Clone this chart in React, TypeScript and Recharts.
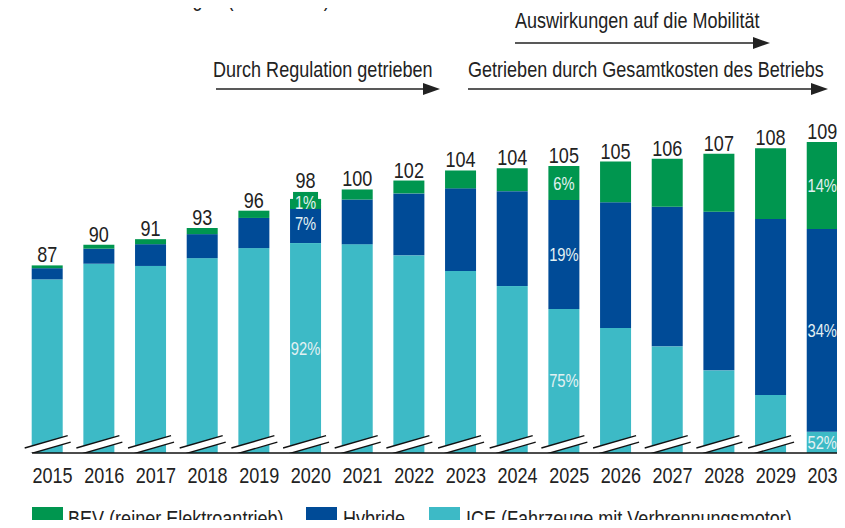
import React from 'react';
import { BarChart, Bar, XAxis, YAxis, ReferenceLine, LabelList } from 'recharts';

const years = ['2015', '2016', '2017', '2018', '2019', '2020', '2021', '2022', '2023', '2024', '2025', '2026', '2027', '2028', '2029', '2030'];
const totals = [87, 90, 91, 93, 96, 98, 100, 102, 104, 104, 105, 105, 106, 107, 108, 109];

// Mio. Fahrzeuge je Antriebsart (aus dem Bild geschätzt)
const ice = [84.5, 87.3, 86.9, 88.3, 90.1, 91.0, 90.8, 88.8, 86.0, 83.3, 79.2, 75.8, 72.5, 68.2, 63.8, 57.2];
const hybrid = [2.0, 2.7, 3.9, 4.3, 5.4, 6.9, 8.0, 11.1, 14.8, 17.0, 19.5, 22.5, 25.0, 28.4, 31.5, 36.3];
const bev = [0.5, 0.7, 0.9, 1.1, 1.3, 1.0, 1.8, 2.3, 3.2, 4.1, 6.1, 7.3, 8.6, 10.4, 12.7, 15.6];

const icePct = ['', '', '', '', '', '92%', '', '', '', '', '75%', '', '', '', '', '52%'];
const hybridPct = ['', '', '', '', '', '7%', '', '', '', '', '19%', '', '', '', '', '34%'];
const bevPct = ['', '', '', '', '', '1%', '', '', '', '', '6%', '', '', '', '', '14%'];

const seriesNames = ['BEV (reiner Elektroantrieb)', 'Hybride', 'ICE (Fahrzeuge mit Verbrennungsmotor)'];

const GREEN = '#00964f';
const BLUE = '#004b97';
const CYAN = '#3dbac6';
const INK = '#222';
const PCT_INK = '#e3f1f3';
const FONT = '"Liberation Sans", Arial, sans-serif';
const NARROW = 0.82; // Liberation Sans, horizontal gestaucht -> wirkt wie Arial Narrow

const Y_MIN = 53.4;
const Y_MAX = 113.4;
const CHART_W = 870;
const CHART_H = 528;
const MARGIN = { top: 118, right: 21.6, left: 21.7, bottom: 45 };
const XAXIS_H = 30;
const PLOT_BOTTOM = CHART_H - MARGIN.bottom - XAXIS_H;
const BAR_SIZE = 31;

const data = years.map((year, i) => ({
  year,
  ice: ice[i],
  hybrid: hybrid[i],
  bev: bev[i],
  total: totals[i],
}));

const num = (v: any) => Number(v) || 0;

type NTextProps = {
  x: number;
  y: number;
  size?: number;
  fill?: string;
  anchor?: 'start' | 'middle' | 'end';
  dy?: string;
  children: React.ReactNode;
};

const NText = ({ x, y, size = 22, fill = INK, anchor = 'start', dy, children }: NTextProps) => (
  <text
    transform={`translate(${x},${y}) scale(${NARROW},1)`}
    x={0}
    y={0}
    dy={dy}
    textAnchor={anchor}
    fontSize={size}
    fontFamily={FONT}
    fill={fill}
  >
    {children}
  </text>
);

const pctText = (cx: number, cy: number, t: string) => (
  <NText x={cx} y={cy} dy="0.36em" anchor="middle" size={18} fill={PCT_INK}>
    {t}
  </NText>
);

const segmentLabel = (list: string[]) => (p: any) => {
  const i = years.indexOf(p.value);
  const t = list[i];
  if (!t) return null;
  const x = num(p.x);
  const w = num(p.width);
  const y = num(p.y);
  const bottom = Math.min(y + num(p.height), PLOT_BOTTOM);
  return pctText(x + w / 2, (y + bottom) / 2, t);
};

const bevLabel = (p: any) => {
  const i = years.indexOf(p.value);
  if (i < 0) return null;
  const x = num(p.x);
  const w = num(p.width);
  const y = num(p.y);
  const h = num(p.height);
  const cx = x + w / 2;
  const t = bevPct[i];
  const boxed = !!t && h < 14;
  return (
    <g>
      {boxed && (
        <g>
          <rect x={x + 3} y={y - 7} width={w - 6} height={8} fill={GREEN} />
          <rect x={x} y={y} width={w} height={10} fill={GREEN} />
        </g>
      )}
      {t && (boxed ? pctText(cx, y + 4, t) : pctText(cx, y + h / 2, t))}
      <NText x={cx} y={y - (boxed ? 11 : 3)} anchor="middle">
        {totals[i]}
      </NText>
    </g>
  );
};

const IceShape = (p: any) => {
  const x = num(p.x);
  const w = num(p.width);
  const y = num(p.y);
  const b = Math.min(y + num(p.height), PLOT_BOTTOM);
  const showBreak = b - y > 30;
  const a1 = [x - 7, b - 5];
  const a2 = [x + w + 5, b - 17.3];
  const d = [3, 6.5];
  const b1 = [a1[0] + d[0], a1[1] + d[1]];
  const b2 = [a2[0] + d[0], a2[1] + d[1]];
  return (
    <g>
      <rect x={x} y={y} width={w} height={Math.max(b - y, 0)} fill={CYAN} />
      {showBreak && (
        <g>
          <polygon points={`${a1[0]},${a1[1]} ${a2[0]},${a2[1]} ${b2[0]},${b2[1]} ${b1[0]},${b1[1]}`} fill="#fff" />
          <line x1={a1[0]} y1={a1[1]} x2={a2[0]} y2={a2[1]} stroke="#111" strokeWidth={1.4} />
          <line x1={b1[0]} y1={b1[1]} x2={b2[0]} y2={b2[1]} stroke="#111" strokeWidth={1.4} />
        </g>
      )}
    </g>
  );
};

const YearTick = (p: any) => (
  <NText x={num(p.x) + 5} y={num(p.y) + 30} anchor="middle">
    {p.payload?.value}
  </NText>
);

const AxisLine = (p: any) => {
  const x1 = num(p.x1);
  const x2 = num(p.x2);
  const inset = ((x2 - x1) / years.length - BAR_SIZE) / 2;
  return <line x1={x1 + inset} y1={p.y1} x2={x2 - inset} y2={p.y2} stroke="#111" strokeWidth={1.6} />;
};

const Arrow = ({ x1, x2, y }: { x1: number; x2: number; y: number }) => (
  <g>
    <line x1={x1} y1={y} x2={x2 - 14} y2={y} stroke={INK} strokeWidth={1.5} />
    <polygon points={`${x2 - 17},${y - 6} ${x2},${y} ${x2 - 17},${y + 6}`} fill={INK} />
  </g>
);

const legendItems = [
  { name: seriesNames[0], color: GREEN, sq: 32, tx: 68 },
  { name: seriesNames[1], color: BLUE, sq: 306, tx: 343 },
  { name: seriesNames[2], color: CYAN, sq: 429, tx: 466 },
];

export default function App() {
  return (
    <div style={{ margin: -8, width: 845, height: 528, position: 'relative', overflow: 'hidden', background: '#fff' }}>
      <div style={{ position: 'absolute', left: 0, top: 0 }}>
        <BarChart width={CHART_W} height={CHART_H} data={data} margin={MARGIN} barSize={BAR_SIZE}>
          <XAxis
            dataKey="year"
            height={XAXIS_H}
            axisLine={false}
            tickLine={false}
            tickSize={0}
            tickMargin={0}
            interval={0}
            tick={<YearTick />}
          />
          <YAxis hide domain={[Y_MIN, Y_MAX]} allowDataOverflow type="number" />
          <Bar dataKey="ice" stackId="a" fill={CYAN} shape={<IceShape />} isAnimationActive={false}>
            <LabelList dataKey="year" content={segmentLabel(icePct)} />
          </Bar>
          <Bar dataKey="hybrid" stackId="a" fill={BLUE} isAnimationActive={false}>
            <LabelList dataKey="year" content={segmentLabel(hybridPct)} />
          </Bar>
          <Bar dataKey="bev" stackId="a" fill={GREEN} isAnimationActive={false}>
            <LabelList dataKey="year" content={bevLabel} />
          </Bar>
          <ReferenceLine y={Y_MIN} ifOverflow="visible" shape={<AxisLine />} />
        </BarChart>
      </div>
      <svg width={845} height={528} style={{ position: 'absolute', left: 0, top: 0, pointerEvents: 'none' }}>
        <NText x={32} y={6}>Anzahl Personenwagen (in Millionen)</NText>
        <NText x={515} y={28}>Auswirkungen auf die Mobilität</NText>
        <Arrow x1={515} x2={770} y={43} />
        <NText x={213} y={77}>Durch Regulation getrieben</NText>
        <Arrow x1={216} x2={440} y={89} />
        <NText x={468} y={77}>Getrieben durch Gesamtkosten des Betriebs</NText>
        <Arrow x1={468} x2={828} y={89} />
        {legendItems.map((it) => (
          <g key={it.name}>
            <rect x={it.sq} y={507} width={31} height={24} fill={it.color} />
            <NText x={it.tx} y={526}>{it.name}</NText>
          </g>
        ))}
      </svg>
    </div>
  );
}
